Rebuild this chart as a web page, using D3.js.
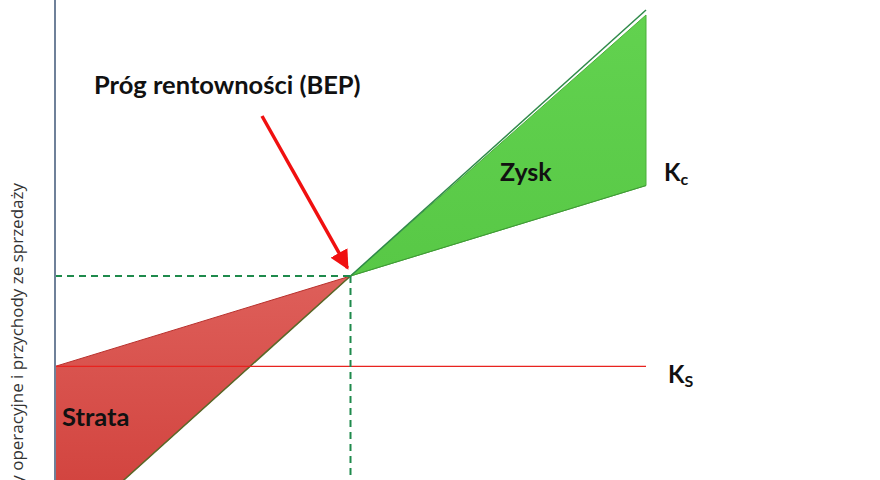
<!DOCTYPE html>
<html><head><meta charset="utf-8">
<script src="https://cdn.jsdelivr.net/npm/d3@7"></script>
<style>body{margin:0;background:#fff;}svg{display:block;}</style>
</head><body>
<script>
// Data
const quantities = [0, 5, 10];
const revenue = [0, 500, 1000];        // przychody ze sprzedaży
const totalCost = [330, 500, 670];     // Kc
const fixedCost = [330, 330, 330];     // Ks
const bepIndex = 1;
const labels = {title:"Próg rentowności (BEP)", profit:"Zysk", loss:"Strata", yAxis:"Koszty operacyjne i przychody ze sprzedaży"};

const W = 880, H = 480;
const svg = d3.select("body").append("svg").attr("width", W).attr("height", H);
const x = d3.scaleLinear().domain([0, 10]).range([55, 646]);
const y = d3.scaleLinear().domain([0, 1000]).range([542, 10]);

const defs = svg.append("defs");
const gR = defs.append("linearGradient").attr("id","gr").attr("x1",0).attr("y1",0).attr("x2",0).attr("y2",1);
gR.append("stop").attr("offset","0%").attr("stop-color","#de5f5a");
gR.append("stop").attr("offset","100%").attr("stop-color","#cf3d38");
const gG = defs.append("linearGradient").attr("id","gg").attr("x1",0).attr("y1",0).attr("x2",0).attr("y2",1);
gG.append("stop").attr("offset","0%").attr("stop-color","#62d24f");
gG.append("stop").attr("offset","100%").attr("stop-color","#58c846");
defs.append("clipPath").attr("id","clip").append("rect").attr("x",0).attr("y",0).attr("width",W).attr("height",H);

const pts = quantities.map((q,i)=>({q, r:revenue[i], c:totalCost[i], f:fixedCost[i]}));
const lossPts = pts.slice(0, bepIndex+1);
const profitPts = pts.slice(bepIndex);

const area = d3.area().x(d=>x(d.q));
svg.append("path").datum(lossPts)
  .attr("d", area.y0(d=>y(d.r)).y1(d=>y(d.c)))
  .attr("fill","url(#gr)").attr("stroke","#b8302c").attr("stroke-width",1)
  .attr("clip-path","url(#clip)");
svg.append("path").datum(profitPts)
  .attr("d", d3.area().x(d=>x(d.q)).y0(d=>y(d.c)).y1(d=>y(d.r)+ (d.q>5?5:0))(profitPts))
  .attr("fill","url(#gg)").attr("stroke","#4bb03a").attr("stroke-width",1);

const line = d3.line().x(d=>x(d.q)).y(d=>y(d.r));
svg.append("path").datum(lossPts).attr("d", line).attr("fill","none")
  .attr("stroke","#5a6a2a").attr("stroke-width",1.5).attr("clip-path","url(#clip)");
svg.append("path").datum(profitPts).attr("d", line).attr("fill","none")
  .attr("stroke","#2f8a4a").attr("stroke-width",1.5);
svg.append("path").datum(profitPts).attr("d", d3.line().x(d=>x(d.q)).y(d=>y(d.c))).attr("fill","none")
  .attr("stroke","#3f9a36").attr("stroke-width",1);

svg.append("path").datum(pts).attr("d", d3.line().x(d=>x(d.q)).y(d=>y(d.f)))
  .attr("fill","none").attr("stroke","#e8231f").attr("stroke-width",1.2);

const bq = quantities[bepIndex], bv = revenue[bepIndex];
svg.append("line").attr("x1",x(0)).attr("x2",x(bq)).attr("y1",y(bv)).attr("y2",y(bv))
  .attr("stroke","#1f8a4c").attr("stroke-width",2).attr("stroke-dasharray","7,5");
svg.append("line").attr("x1",x(bq)).attr("x2",x(bq)).attr("y1",y(bv)).attr("y2",H)
  .attr("stroke","#1f8a4c").attr("stroke-width",2).attr("stroke-dasharray","7,5");

svg.append("line").attr("x1",55).attr("x2",55).attr("y1",0).attr("y2",H)
  .attr("stroke","#6f8199").attr("stroke-width",2);

svg.append("text").attr("transform","translate(23,183) rotate(-90)")
  .attr("text-anchor","end").attr("font-family","'Open Sans', sans-serif").attr("font-size",17)
  .attr("fill","#333").text(labels.yAxis);

defs.append("marker").attr("id","ah").attr("viewBox","0 0 10 10").attr("refX",9).attr("refY",5)
  .attr("markerWidth",5.5).attr("markerHeight",5.5).attr("orient","auto")
  .append("path").attr("d","M0,0 L10,5 L0,10 Z").attr("fill","#f01010");
svg.append("line").attr("x1",262).attr("y1",116).attr("x2",x(bq)-3).attr("y2",y(bv)-8)
  .attr("stroke","#f01010").attr("stroke-width",3.5).attr("marker-end","url(#ah)");

const bold = {"font-family":"Lato, sans-serif","font-weight":"bold","fill":"#111"};
function t(txt,xx,yy,size){const e=svg.append("text").attr("x",xx).attr("y",yy).attr("font-size",size);
  for(const k in bold) e.attr(k,bold[k]); e.text(txt); return e;}
t(labels.title,94,94,25.5);
t(labels.profit,500,181,25);
t(labels.loss,62,426,25.5);
const kc = t("K",664,181,24); kc.append("tspan").attr("font-size",16).attr("dy",4).text("c");
const ks = t("K",668,383,24); ks.append("tspan").attr("font-size",16).attr("dy",4).text("S");
</script>
</body></html>
